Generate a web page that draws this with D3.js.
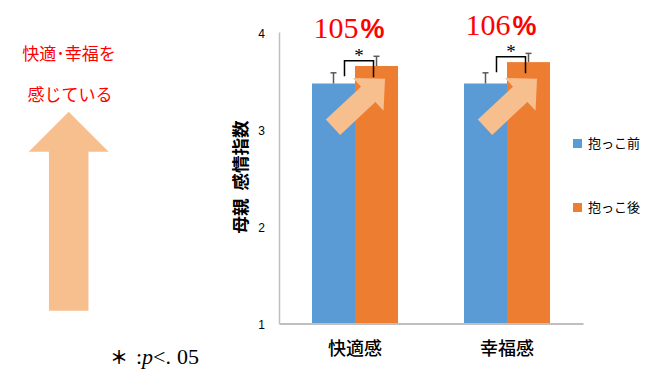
<!DOCTYPE html>
<html>
<head>
<meta charset="utf-8">
<script src="https://cdn.jsdelivr.net/npm/d3@7"></script>
<style>
  body { margin: 0; background: #fff; }
  svg { display: block; }
</style>
</head>
<body>
<svg id="chart"></svg>
<script>
// DATA
const categories = ["快適感", "幸福感"];
const seriesNames = ["抱っこ前", "抱っこ後"];
const beforeValues = [3.47, 3.47];
const afterValues = [3.65, 3.69];
const beforeErrors = [0.11, 0.11];
const afterErrors = [0.10, 0.09];
const percentLabels = ["105%", "106%"];
const bracketTops = [3.705, 3.746];
const bracketBottoms = [3.545, 3.585];
const yTicks = [1, 2, 3, 4];

const width = 653;
const height = 377;
const colors = ["#5B9BD5", "#ED7D31"];
const arrowColor = "#F8BF8E";
const jpFont = "'Noto Sans CJK JP', 'Noto Sans', sans-serif";

const svg = d3.select("#chart")
  .attr("width", width)
  .attr("height", height);

// scales
const x = d3.scaleBand()
  .domain(categories)
  .range([279, 583])
  .paddingInner(0.434)
  .paddingOuter(0.217);

const xSub = d3.scaleBand()
  .domain(seriesNames)
  .range([0, x.bandwidth()]);

const y = d3.scaleLinear()
  .domain([1, 4])
  .range([323.5, 32]);

// rows for the bars
const rows = [];
categories.forEach((c, i) => {
  rows.push({ cat: c, series: seriesNames[0], value: beforeValues[i], err: beforeErrors[i], color: colors[0] });
  rows.push({ cat: c, series: seriesNames[1], value: afterValues[i], err: afterErrors[i], color: colors[1] });
});

// bars
svg.append("g")
  .selectAll("rect")
  .data(rows)
  .join("rect")
  .attr("x", d => x(d.cat) + xSub(d.series))
  .attr("y", d => y(d.value))
  .attr("width", xSub.bandwidth())
  .attr("height", d => y(1) - y(d.value))
  .attr("fill", d => d.color);

// axes
const yAxis = svg.append("g")
  .attr("transform", "translate(279,0)")
  .call(d3.axisLeft(y).tickValues(yTicks).tickSize(0).tickPadding(14).tickFormat(d3.format("d")));
yAxis.select(".domain").attr("stroke", "#BFBFBF").attr("stroke-width", 1.5);
yAxis.selectAll("text")
  .attr("font-family", "'Liberation Sans', Arial, sans-serif")
  .attr("font-size", 12)
  .attr("fill", "#000")
  .attr("dy", "0.45em");

const xAxis = svg.append("g")
  .attr("transform", "translate(0,323.5)")
  .call(d3.axisBottom(x).tickSize(0).tickSizeOuter(0));
xAxis.select(".domain").attr("stroke", "#BFBFBF").attr("stroke-width", 1.8);
xAxis.selectAll("text")
  .attr("font-family", jpFont)
  .attr("font-size", 18)
  .attr("font-weight", 500)
  .attr("fill", "#000")
  .attr("y", 25.5)
  .attr("dy", "0.36em");

// error bars (upper half only)
const errG = svg.append("g")
  .attr("stroke", "#595959")
  .attr("stroke-width", 1.5);
rows.forEach(d => {
  const cx = x(d.cat) + xSub(d.series) + xSub.bandwidth() / 2;
  errG.append("line")
    .attr("x1", cx).attr("x2", cx)
    .attr("y1", y(d.value)).attr("y2", y(d.value + d.err));
  errG.append("line")
    .attr("x1", cx - 3).attr("x2", cx + 3)
    .attr("y1", y(d.value + d.err)).attr("y2", y(d.value + d.err));
});

// significance brackets and stars
categories.forEach((c, i) => {
  const left = x(c) + xSub.bandwidth() / 2 + 11;
  const right = x(c) + xSub(seriesNames[1]) + xSub.bandwidth() / 2 - 3;
  svg.append("path")
    .attr("d", `M${left},${y(bracketBottoms[i])}V${y(bracketTops[i])}H${right}V${y(bracketBottoms[i] - 0.01)}`)
    .attr("fill", "none")
    .attr("stroke", "#000")
    .attr("stroke-width", 1.5);
  svg.append("text")
    .attr("x", (left + right) / 2)
    .attr("y", y(bracketTops[i]) + 1)
    .attr("text-anchor", "middle")
    .attr("font-family", "'Liberation Serif', serif")
    .attr("font-size", 19)
    .text("*");
});

// diagonal arrows over the bars
function arrowPath(len, shaft, headW, headL) {
  const s = shaft / 2, h = headW / 2, b = len - headL;
  return `M0,${-s}L${b},${-s}L${b},${-h}L${len},0L${b},${h}L${b},${s}L0,${s}Z`;
}
categories.forEach((c, i) => {
  const cx = x(c) + x.bandwidth() / 2;
  const tx = cx - 22, ty = y(3.02);
  const hx = cx + 30, hy = y(3.52);
  const len = Math.hypot(hx - tx, hy - ty);
  const ang = Math.atan2(hy - ty, hx - tx) * 180 / Math.PI;
  svg.append("path")
    .attr("d", arrowPath(len, 21, 45, 23))
    .attr("transform", `translate(${tx},${ty}) rotate(${ang})`)
    .attr("fill", arrowColor);
});

// percent labels
categories.forEach((c, i) => {
  const t = svg.append("text")
    .attr("x", x(c) + x.bandwidth() / 2 - 6)
    .attr("y", i === 0 ? 37.5 : 34.5)
    .attr("text-anchor", "middle")
    .attr("font-family", "'Liberation Serif', 'DejaVu Serif', serif")
    .attr("font-size", 30)
    .attr("fill", "#FF0000");
  t.append("tspan").text(percentLabels[i].slice(0, -1));
  t.append("tspan").attr("dx", 2).attr("font-weight", "bold").attr("font-family", "'Liberation Sans', sans-serif").attr("font-size", 27).text("%");
});

// y axis title
svg.append("text")
  .attr("transform", "translate(241,177) rotate(-90)")
  .attr("text-anchor", "middle")
  .attr("dy", "0.36em")
  .attr("font-family", jpFont)
  .attr("font-size", 17.5)
  .attr("font-weight", "bold")
  .attr("fill", "#000")
  .attr("xml:space", "preserve")
  .text("母親  感情指数");

// legend
const legend = svg.append("g");
seriesNames.forEach((s, i) => {
  const ly = 143.5 + i * 64;
  legend.append("rect")
    .attr("x", 573).attr("y", ly - 4.5)
    .attr("width", 9).attr("height", 9)
    .attr("fill", colors[i]);
  legend.append("text")
    .attr("x", 588).attr("y", ly)
    .attr("dy", "0.36em")
    .attr("font-family", jpFont)
    .attr("font-size", 13)
    .attr("fill", "#000")
    .text(s);
});

// left annotation
svg.append("text")
  .attr("x", 69).attr("y", 54)
  .attr("dy", "0.36em")
  .attr("text-anchor", "middle")
  .attr("font-family", jpFont)
  .attr("font-size", 17)
  .attr("fill", "#FF0000")
  .text("快適･幸福を");
svg.append("text")
  .attr("x", 70).attr("y", 95)
  .attr("dy", "0.36em")
  .attr("text-anchor", "middle")
  .attr("font-family", jpFont)
  .attr("font-size", 17)
  .attr("fill", "#FF0000")
  .text("感じている");

// big up arrow
svg.append("path")
  .attr("d", arrowPath(199, 39.5, 80, 40))
  .attr("transform", "translate(68.7,310.7) rotate(-90)")
  .attr("fill", arrowColor);

// footnote
const note = svg.append("text")
  .attr("x", 110).attr("y", 364)
  .attr("font-family", "'Liberation Serif', 'DejaVu Serif', serif")
  .attr("font-size", 22)
  .attr("fill", "#000");
note.append("tspan").attr("font-family", jpFont).attr("font-weight", "bold").attr("font-size", 18).text("＊");
note.append("tspan").attr("x", 136).text(":");
note.append("tspan").attr("x", 142).attr("font-style", "italic").text("p");
note.append("tspan").text("<.");
note.append("tspan").attr("dx", 6).text("05");
</script>
</body>
</html>
